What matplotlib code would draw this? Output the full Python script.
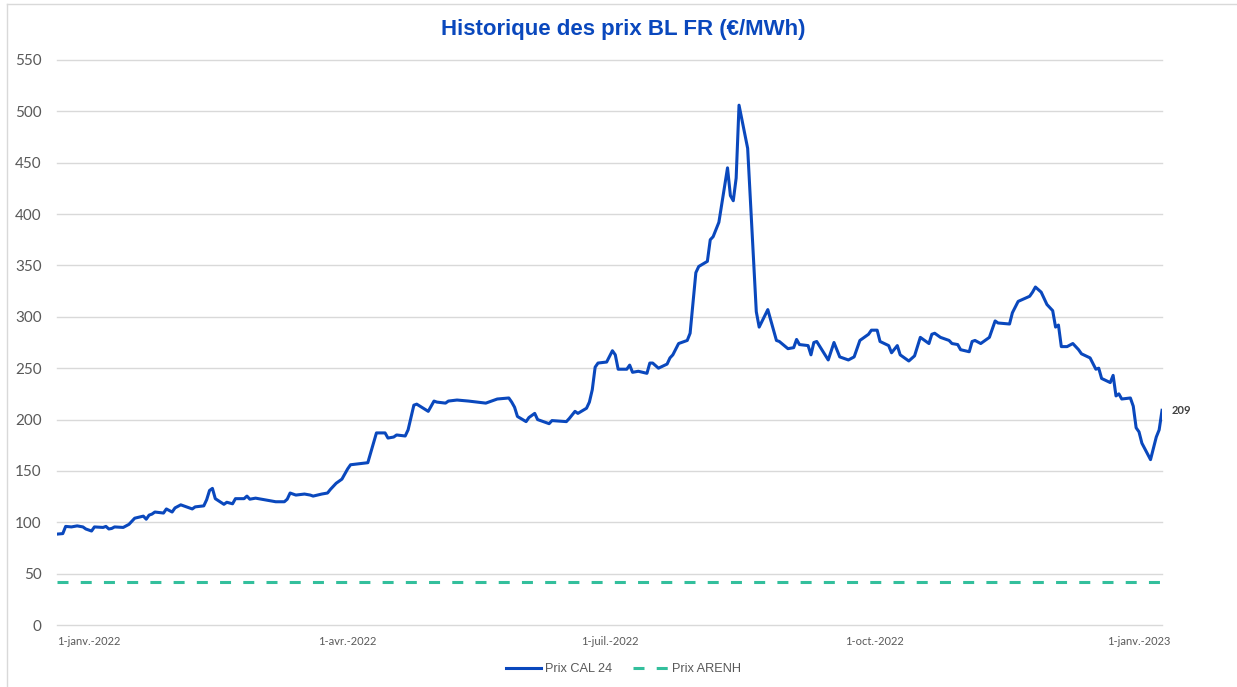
"""
Historique des prix BL FR — courbe CAL 24 vs prix ARENH.
"""

import matplotlib
matplotlib.use("Agg")
import matplotlib.pyplot as plt
import pandas as pd

# --- data -------------------------------------------------------------------
dates = [
    "2021-12-21", "2021-12-23", "2021-12-24", "2021-12-26", "2021-12-28",
    "2021-12-30", "2021-12-31", "2022-01-02", "2022-01-03", "2022-01-06",
    "2022-01-07", "2022-01-08", "2022-01-09", "2022-01-10", "2022-01-13",
    "2022-01-15", "2022-01-17", "2022-01-20", "2022-01-21", "2022-01-22",
    "2022-01-23", "2022-01-24", "2022-01-27", "2022-01-28", "2022-01-30",
    "2022-01-31", "2022-02-02", "2022-02-04", "2022-02-06", "2022-02-07",
    "2022-02-10", "2022-02-11", "2022-02-12", "2022-02-13", "2022-02-14",
    "2022-02-17", "2022-02-18", "2022-02-20", "2022-02-21", "2022-02-24",
    "2022-02-25", "2022-02-26", "2022-02-28", "2022-03-02", "2022-03-05",
    "2022-03-07", "2022-03-10", "2022-03-11", "2022-03-12", "2022-03-14",
    "2022-03-17", "2022-03-19", "2022-03-20", "2022-03-23", "2022-03-25",
    "2022-03-26", "2022-03-28", "2022-03-29", "2022-03-30", "2022-04-01",
    "2022-04-02", "2022-04-08", "2022-04-11", "2022-04-14", "2022-04-15",
    "2022-04-17", "2022-04-18", "2022-04-21", "2022-04-22", "2022-04-24",
    "2022-04-25", "2022-04-29", "2022-05-01", "2022-05-02", "2022-05-05",
    "2022-05-06", "2022-05-09", "2022-05-13", "2022-05-19", "2022-05-21",
    "2022-05-23", "2022-05-27", "2022-05-28", "2022-05-29", "2022-05-30",
    "2022-06-02", "2022-06-03", "2022-06-05", "2022-06-06", "2022-06-10",
    "2022-06-11", "2022-06-16", "2022-06-17", "2022-06-19", "2022-06-20",
    "2022-06-23", "2022-06-24", "2022-06-25", "2022-06-26", "2022-06-27",
    "2022-06-30", "2022-07-02", "2022-07-03", "2022-07-04", "2022-07-07",
    "2022-07-08", "2022-07-09", "2022-07-11", "2022-07-14", "2022-07-15",
    "2022-07-16", "2022-07-18", "2022-07-21", "2022-07-22", "2022-07-23",
    "2022-07-25", "2022-07-28", "2022-07-29", "2022-07-31", "2022-08-01",
    "2022-08-04", "2022-08-05", "2022-08-06", "2022-08-08", "2022-08-11",
    "2022-08-12", "2022-08-13", "2022-08-14", "2022-08-15", "2022-08-18",
    "2022-08-21", "2022-08-22", "2022-08-25", "2022-08-28", "2022-08-29",
    "2022-09-01", "2022-09-03", "2022-09-04", "2022-09-05", "2022-09-08",
    "2022-09-09", "2022-09-10", "2022-09-11", "2022-09-15", "2022-09-17",
    "2022-09-19", "2022-09-22", "2022-09-24", "2022-09-26", "2022-09-29",
    "2022-09-30", "2022-10-02", "2022-10-03", "2022-10-06", "2022-10-07",
    "2022-10-09", "2022-10-10", "2022-10-13", "2022-10-15", "2022-10-17",
    "2022-10-20", "2022-10-21", "2022-10-22", "2022-10-24", "2022-10-27",
    "2022-10-28", "2022-10-30", "2022-10-31", "2022-11-03", "2022-11-04",
    "2022-11-05", "2022-11-07", "2022-11-10", "2022-11-12", "2022-11-13",
    "2022-11-17", "2022-11-18", "2022-11-20", "2022-11-24", "2022-11-25",
    "2022-11-26", "2022-11-28", "2022-11-30", "2022-12-02", "2022-12-03",
    "2022-12-04", "2022-12-05", "2022-12-07", "2022-12-09", "2022-12-11",
    "2022-12-12", "2022-12-15", "2022-12-17", "2022-12-18", "2022-12-19",
    "2022-12-22", "2022-12-23", "2022-12-24", "2022-12-25", "2022-12-26",
    "2022-12-29", "2022-12-30", "2022-12-31", "2023-01-01", "2023-01-02",
    "2023-01-05", "2023-01-06", "2023-01-07", "2023-01-08", "2023-01-09",
]

prix_cal24 = [
    88.5, 89, 96, 95.5, 96.5, 95.5, 93.5, 91.5, 95.5, 95,
    96, 93.5, 94, 95.5, 95, 98, 104, 106, 103, 107,
    108, 110, 109, 113, 110, 114, 117, 115, 113, 115,
    116, 122, 131, 133, 123, 117.5, 119.5, 118, 123, 123,
    125.5, 122.5, 123.5, 122.5, 121, 120, 120, 122.5, 128.5, 126.5,
    127.5, 126.5, 125.5, 127.5, 128.5, 132, 138, 140, 142, 152,
    156, 158, 187, 187, 182, 183, 185, 184, 190, 214,
    215, 208, 218, 217, 216, 218, 219, 218, 216, 218,
    220, 221, 217, 212, 203, 198, 202, 206, 200, 196,
    199, 198, 201, 208, 206, 211, 217, 229, 251, 255,
    256, 267, 263, 249, 249, 253, 246, 247, 245, 255,
    255, 250, 254, 260, 263, 274, 277, 284, 343, 349,
    354, 375, 378, 392, 445, 418, 413, 435, 506, 464,
    305, 290, 307, 277, 276, 269, 270, 278, 273, 272,
    263, 275, 276, 258, 275, 261, 258, 261, 277, 283,
    287, 287, 276, 272, 265, 272, 263, 257, 262, 280,
    274, 283, 284, 280, 277, 274, 273, 268, 266, 276,
    277, 274, 280, 296, 294, 293, 304, 315, 320, 324,
    329, 324, 312, 306, 290, 292, 271, 271, 274, 268,
    264, 260, 249, 250, 240, 236, 243, 223, 225, 220,
    221, 213, 192, 188, 177, 161, 172, 183, 190, 209,
]

prix_arenh = 42  # €/MWh

tick_dates = ["2022-01-01", "2022-04-01", "2022-07-01", "2022-10-01", "2023-01-01"]
tick_labels = ["1-janv.-2022", "1-avr.-2022", "1-juil.-2022", "1-oct.-2022", "1-janv.-2023"]
y_ticks = list(range(0, 551, 50))

# --- style ------------------------------------------------------------------
BLUE = "#0a48bd"
TEAL = "#33bf9c"
GRID = "#d9d9d9"
TXT = "#595959"

df = pd.DataFrame({"date": pd.to_datetime(dates), "cal24": prix_cal24})

fig = plt.figure(figsize=(12.37, 6.87), dpi=100)
ax = fig.add_axes([0.0461, 0.0902, 0.8933, 0.8225])

ax.plot(df["date"], df["cal24"], color=BLUE, linewidth=2.2,
        solid_joinstyle="round", label="Prix CAL 24", zorder=3)
ax.plot([df["date"].iloc[0], df["date"].iloc[-1]], [prix_arenh, prix_arenh],
        color=TEAL, linewidth=2.2, dashes=(3.6, 4.0), label="Prix ARENH", zorder=2)

# last value label
ax.annotate(f"{prix_cal24[-1]:.0f}", xy=(df["date"].iloc[-1], prix_cal24[-1]),
            xytext=(7, 0), textcoords="offset points", va="center", ha="left",
            fontsize=8, fontweight="bold", color="#404040", family="Lato")

ax.set_xlim(df["date"].iloc[0], df["date"].iloc[-1])
ax.set_ylim(0, 550)
ax.set_yticks(y_ticks)
ax.set_yticklabels([str(v) for v in y_ticks], fontsize=11, color=TXT, family="Lato")
ax.set_xticks(pd.to_datetime(tick_dates))
ax.set_xticklabels(tick_labels, fontsize=8, color=TXT, family="Lato")
ax.tick_params(axis="y", length=0, pad=11)
ax.tick_params(axis="x", length=0, pad=8)
ax.grid(axis="y", color=GRID, linewidth=1.0, zorder=0)
for gl in ax.get_ygridlines():
    gl.set_clip_on(False)
ax.set_axisbelow(True)
for s in ax.spines.values():
    s.set_visible(False)

fig.text(0.5035, 1 - 30 / 687, "Historique des prix BL FR (€/MWh)",
         ha="center", va="center", fontsize=16, fontweight="bold",
         color=BLUE, family="Liberation Sans")

leg = fig.legend(loc="center", bbox_to_anchor=(0.504, 1 - 669 / 687), ncol=2,
                 frameon=False, handlelength=2.8, columnspacing=1.6,
                 handletextpad=0.3, prop={"family": "Liberation Sans", "size": 9.2})
for t in leg.get_texts():
    t.set_color(TXT)

# chart border (left and top edges visible)
fig.add_artist(plt.Line2D([7 / 1237, 7 / 1237], [0, 1 - 4 / 687],
                          transform=fig.transFigure, color=GRID, linewidth=1))
fig.add_artist(plt.Line2D([7 / 1237, 1], [1 - 4 / 687, 1 - 4 / 687],
                          transform=fig.transFigure, color=GRID, linewidth=1))

fig.savefig("out.png", dpi=100, facecolor="white")
plt.close(fig)
